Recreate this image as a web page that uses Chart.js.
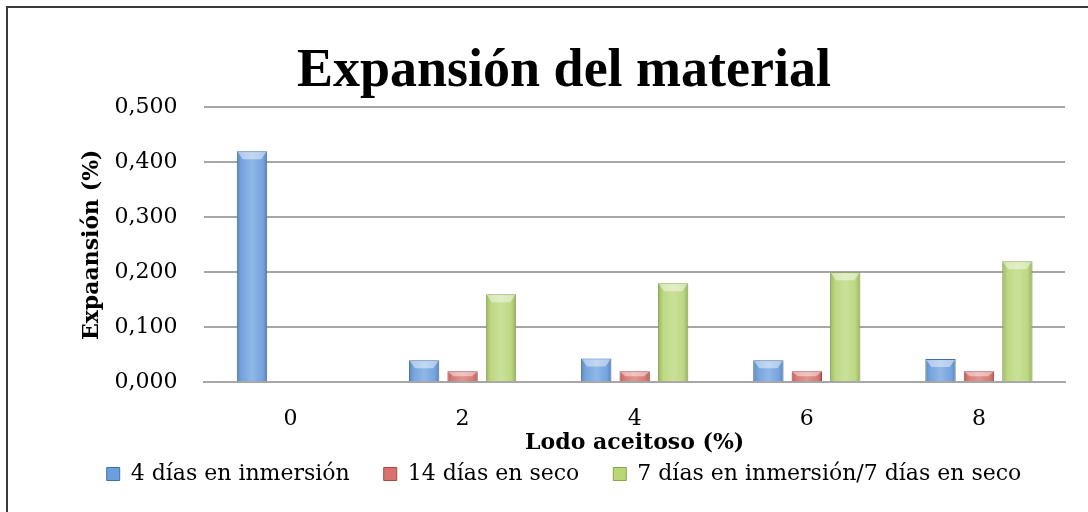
<!DOCTYPE html>
<html>
<head>
<meta charset="utf-8">
<script src="https://cdn.jsdelivr.net/npm/chart.js"></script>
<style>
  html, body { margin: 0; padding: 0; background: #fff; overflow: hidden; }
  #wrap { position: relative; width: 1088px; height: 512px; }
  #frame { position: absolute; left: 6px; top: 6px; width: 1100px; height: 530px; border: 2px solid #3a3a3a; box-sizing: border-box; }
  #chart { position: absolute; left: 0; top: 0; }
</style>
</head>
<body>
<div id="wrap">
  <div id="frame"></div>
  <canvas id="chart" width="1088" height="512"></canvas>
</div>
<script>
// Chart data
const categories = ['0', '2', '4', '6', '8'];
const seriesNames = ['4 días en inmersión', '14 días en seco', '7 días en inmersión/7 días en seco'];
const inmersion4 = [0.420, 0.040, 0.043, 0.040, 0.042];
const seco14 = [null, 0.020, 0.020, 0.020, 0.020];
const mixto7 = [null, 0.160, 0.180, 0.200, 0.220];
const yTicks = [0, 0.1, 0.2, 0.3, 0.4, 0.5];

const fills = ['#6c9fde', '#d7726e', '#b9d679'];
const edges = ['#3f6fab', '#a54845', '#84a548'];

// Format number with decimal comma
function formatComma(value) {
    return value.toFixed(3).replace('.', ',');
}

// Bevel look drawn over each bar element
const bevelPlugin = {
    id: 'bevel',
    afterDatasetsDraw(chart) {
        const ctx = chart.ctx;
        chart.data.datasets.forEach(function(ds, i) {
            const meta = chart.getDatasetMeta(i);
            meta.data.forEach(function(bar, index) {
                if (ds.data[index] === null) return;
                const p = bar.getProps(['x', 'y', 'base', 'width'], true);
                const left = p.x - p.width / 2;
                const right = p.x + p.width / 2;
                const h = p.base - p.y;
                if (h <= 0) return;
                ctx.save();
                const g = ctx.createLinearGradient(left, 0, right, 0);
                g.addColorStop(0, 'rgba(0,0,0,0.20)');
                g.addColorStop(0.2, 'rgba(255,255,255,0.08)');
                g.addColorStop(0.5, 'rgba(255,255,255,0.25)');
                g.addColorStop(0.8, 'rgba(255,255,255,0.08)');
                g.addColorStop(1, 'rgba(0,0,0,0.24)');
                ctx.fillStyle = g;
                ctx.fillRect(left + 1, p.y + 1, p.width - 2, h - 1);
                // light top cap
                const cap = Math.min(8, h / 2);
                ctx.fillStyle = 'rgba(255,255,255,0.45)';
                ctx.beginPath();
                ctx.moveTo(left + 1, p.y + 1);
                ctx.lineTo(right - 1, p.y + 1);
                ctx.lineTo(right - 6, p.y + cap);
                ctx.lineTo(left + 6, p.y + cap);
                ctx.closePath();
                ctx.fill();
                ctx.restore();
            });
        });
    }
};

// Move legend and title to match original placement
const boxShift = {
    id: 'boxShift',
    afterLayout(chart) {
        const lg = chart.legend;
        if (lg) {
            lg.left -= 8;
            lg.right -= 8;
            lg.top -= 27;
            lg.bottom -= 27;
        }
        const tt = chart.titleBlock;
        if (tt) {
            tt.left -= 8;
            tt.right -= 8;
        }
    }
};

function makeDataset(label, data, i) {
    return {
        label: label,
        data: data,
        backgroundColor: fills[i],
        borderColor: edges[i],
        borderWidth: 1,
        borderSkipped: 'bottom',
        barPercentage: 0.79,
        categoryPercentage: 0.67
    };
}

const ctx = document.getElementById('chart');
new Chart(ctx, {
    type: 'bar',
    data: {
        labels: categories,
        datasets: [
            makeDataset(seriesNames[0], inmersion4, 0),
            makeDataset(seriesNames[1], seco14, 1),
            makeDataset(seriesNames[2], mixto7, 2)
        ]
    },
    plugins: [bevelPlugin, boxShift],
    options: {
        responsive: false,
        animation: false,
        layout: {
            padding: { left: 79, right: 23, top: 8, bottom: -10 }
        },
        plugins: {
            title: {
                display: true,
                text: 'Expansión del material',
                color: '#000',
                font: { family: 'Liberation Serif', size: 54, weight: 'bold' },
                padding: { top: 32, bottom: 2.6 }
            },
            legend: {
                display: true,
                position: 'bottom',
                labels: {
                    color: '#000',
                    boxWidth: 13,
                    boxHeight: 13,
                    padding: 34,
                    font: { family: 'DejaVu Serif', size: 22 }
                }
            },
            tooltip: { enabled: false }
        },
        scales: {
            y: {
                min: 0,
                max: 0.5,
                afterBuildTicks: function(axis) {
                    axis.ticks = yTicks.map(function(v) { return { value: v }; });
                },
                grid: { color: '#a6a6a6', lineWidth: 2, drawTicks: false },
                border: { display: false },
                ticks: {
                    color: '#000',
                    padding: 27,
                    font: { family: 'DejaVu Serif', size: 22 },
                    callback: function(value) { return formatComma(value); }
                },
                title: {
                    display: true,
                    text: 'Expaansión (%)',
                    color: '#000',
                    font: { family: 'DejaVu Serif', size: 22, weight: 'bold' },
                    padding: { top: 0, bottom: -18 }
                }
            },
            x: {
                grid: { display: false, drawTicks: false },
                border: { display: true, color: '#a6a6a6', width: 2 },
                ticks: {
                    color: '#000',
                    padding: 24,
                    font: { family: 'DejaVu Serif', size: 22 }
                },
                title: {
                    display: true,
                    text: 'Lodo aceitoso (%)',
                    color: '#000',
                    font: { family: 'DejaVu Serif', size: 22, weight: 'bold' },
                    padding: { top: -27, bottom: 0 }
                }
            }
        }
    }
});
</script>
</body>
</html>
